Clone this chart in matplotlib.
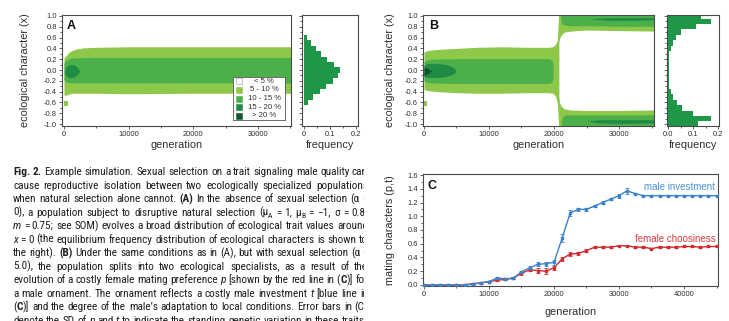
import numpy as np
import matplotlib
matplotlib.use("Agg")
import matplotlib.pyplot as plt
from matplotlib import font_manager
from matplotlib.font_manager import FontProperties
from matplotlib.ticker import MultipleLocator, FixedLocator

# ---------------------------------------------------------------- data
# frequency classes of the ecological-character distribution
class_labels = ["< 5 %", "5 - 10 %", "10 - 15 %", "15 - 20 %", "> 20 %"]
class_colors = ["#ffffff", "#8dc84a", "#4cb04a", "#1f8b44", "#12552c"]
hist_color = "#1e9848"

# Panel A (no sexual selection): band edges over generations
A_light_gen = [0, 300, 700, 1200, 2000, 3000, 5000, 10000, 20000, 30000, 35400]
A_light_top = [0.22, 0.26, 0.32, 0.36, 0.39, 0.41, 0.42, 0.43, 0.43, 0.43, 0.43]
A_light_bot = [-0.46, -0.47, -0.45, -0.43, -0.43, -0.43, -0.43, -0.44, -0.43, -0.43, -0.43]
A_spot_gen = [0, 700]
A_spot_top = [-0.57, -0.57]
A_spot_bot = [-0.67, -0.67]
A_mid_gen = [0, 300, 1000, 3000, 35400]
A_mid_top = [0.12, 0.18, 0.22, 0.23, 0.23]
A_mid_bot = [-0.18, -0.22, -0.24, -0.24, -0.24]
A_dark_gen = [100, 400, 900, 1500, 2000, 2500]
A_dark_top = [-0.02, 0.07, 0.10, 0.10, 0.06, -0.02]
A_dark_bot = [-0.06, -0.12, -0.14, -0.13, -0.09, -0.02]

# Panel A equilibrium histogram
A_hist_x = [0.6, 0.5, 0.4, 0.3, 0.2, 0.1, 0.0, -0.1, -0.2, -0.3, -0.4, -0.5, -0.6]
A_hist_f = [0.010, 0.025, 0.045, 0.065, 0.090, 0.115, 0.140, 0.130, 0.110, 0.085, 0.060, 0.035, 0.015]

# Panel B (sexual selection): band edges over generations
B_light_gen = [0, 500, 2000, 5000, 8000, 12000, 16000, 19000, 19800, 20200, 20500, 20750]
B_light_top = [0.33, 0.36, 0.38, 0.40, 0.42, 0.43, 0.42, 0.42, 0.43, 0.47, 0.55, 1.10]
B_light_bot = [-0.36, -0.38, -0.40, -0.42, -0.43, -0.43, -0.42, -0.42, -0.43, -0.48, -0.60, -1.10]
B_spot_gen = [0, 400]
B_spot_top = [-0.57, -0.57]
B_spot_bot = [-0.67, -0.67]
B_upper_gen = [20700, 20900, 21200, 21600, 22500, 25000, 30000, 35400]
B_upper_lo = [0.50, 0.60, 0.66, 0.70, 0.72, 0.74, 0.73, 0.72]
B_lower_hi = [-0.50, -0.62, -0.68, -0.72, -0.74, -0.75, -0.75, -0.74]
B_mid_gen = [0, 300, 1000, 5000, 10000, 15000, 19300, 19700, 19850]
B_mid_top = [0.15, 0.18, 0.20, 0.21, 0.21, 0.21, 0.21, 0.18, 0.10]
B_mid_bot = [-0.20, -0.22, -0.24, -0.25, -0.25, -0.25, -0.25, -0.22, -0.12]
B_mid_up_gen = [21000, 21200, 22000, 25000, 30000, 35400]
B_mid_up_lo = [0.95, 0.85, 0.82, 0.82, 0.81, 0.81]
B_mid_dn_gen = [21100, 21400, 22000, 25000, 30000, 35400]
B_mid_dn_hi = [-0.95, -0.85, -0.83, -0.83, -0.83, -0.83]
B_dark_gen = [0, 500, 1500, 3000, 4000, 4700, 4900]
B_dark_top = [0.08, 0.12, 0.12, 0.11, 0.08, 0.03, -0.01]
B_dark_bot = [-0.12, -0.14, -0.14, -0.13, -0.10, -0.06, -0.01]
B_dark_up_gen = [25500, 27000, 29000, 32000, 35400]
B_dark_up_top = [0.95, 0.96, 0.97, 0.97, 0.97]
B_dark_up_bot = [0.95, 0.93, 0.92, 0.92, 0.93]
B_dark_dn_gen = [25000, 27000, 30000, 35400]
B_dark_dn_top = [-0.95, -0.92, -0.92, -0.92]
B_dark_dn_bot = [-0.95, -0.98, -0.99, -0.98]
B_core_gen = [0, 300, 700, 1200]
B_core_top = [0.04, 0.05, 0.02, -0.02]
B_core_bot = [-0.10, -0.09, -0.06, -0.02]

# Panel B histogram
B_hist_x = [1.0, 0.9, 0.8, 0.7, 0.6, 0.5, 0.4, 0.3, 0.2, 0.1, 0.0, -0.1, -0.2, -0.3,
            -0.4, -0.5, -0.6, -0.7, -0.8, -0.9, -1.0]
B_hist_f = [0.13, 0.17, 0.11, 0.05, 0.03, 0.02, 0.01, 0.004, 0.003, 0.003, 0.003, 0.003,
            0.003, 0.004, 0.01, 0.02, 0.035, 0.055, 0.10, 0.17, 0.12]

# Panel C: mean mating characters over time
C_gen = np.arange(0, 45001, 1250)
C_male = [0, 0, 0, 0, 0, 0, 0.01, 0.03, 0.05, 0.10, 0.09, 0.10, 0.19, 0.25, 0.30,
          0.31, 0.33, 0.68, 1.05, 1.10, 1.10, 1.15, 1.20, 1.25, 1.30, 1.37, 1.33,
          1.30, 1.30, 1.30, 1.30, 1.30, 1.30, 1.30, 1.30, 1.30, 1.30]
C_male_sd = [0.005, 0.005, 0.005, 0.005, 0.005, 0.005, 0.01, 0.01, 0.01, 0.015, 0.015,
             0.015, 0.015, 0.02, 0.03, 0.03, 0.04, 0.06, 0.04, 0.02, 0.02, 0.02, 0.02,
             0.02, 0.03, 0.04, 0.01, 0.01, 0.01, 0.01, 0.01, 0.01, 0.01, 0.01, 0.01,
             0.01, 0.01]
C_female = [0, 0, 0, 0, 0, 0, 0.02, 0.03, 0.05, 0.07, 0.08, 0.10, 0.17, 0.22, 0.21,
            0.20, 0.25, 0.38, 0.45, 0.46, 0.50, 0.55, 0.55, 0.55, 0.57, 0.57, 0.55,
            0.55, 0.53, 0.55, 0.55, 0.55, 0.56, 0.56, 0.55, 0.56, 0.56]
C_female_sd = [0.005, 0.005, 0.005, 0.005, 0.005, 0.005, 0.01, 0.01, 0.01, 0.01, 0.01,
               0.015, 0.02, 0.02, 0.03, 0.04, 0.03, 0.03, 0.03, 0.02, 0.02, 0.01, 0.01,
               0.01, 0.01, 0.01, 0.01, 0.01, 0.01, 0.01, 0.01, 0.01, 0.01, 0.01, 0.01,
               0.01, 0.01]

eco_ticks = [1.0, 0.8, 0.6, 0.4, 0.2, 0.0, -0.2, -0.4, -0.6, -0.8, -1.0]
gen_ticks_AB = [0, 10000, 20000, 30000]
gen_ticks_C = [0, 10000, 20000, 30000, 40000]
freq_ticks = [0, 0.1, 0.2]
freq_labels_A = ["0", "0.1", "0.2"]
freq_labels_B = ["0.0", "0.1", "0.2"]
mate_ticks = [0.0, 0.2, 0.4, 0.6, 0.8, 1.0, 1.2, 1.4, 1.6]

caption_lines = [
    "*Fig. 2.* Example simulation. Sexual selection on a trait signaling male quality can",
    "cause reproductive isolation between two ecologically specialized populations",
    "when natural selection alone cannot. *(A)* In the absence of sexual selection (α =",
    "0), a population subject to disruptive natural selection (μ~A~ = 1, μ~B~ = −1, σ = 0.8,",
    "_m_ = 0.75; see SOM) evolves a broad distribution of ecological trait values around",
    "_x_ = 0 (the equilibrium frequency distribution of ecological characters is shown to",
    "the right). *(B)* Under the same conditions as in (A), but with sexual selection (α =",
    "5.0), the population splits into two ecological specialists, as a result of the",
    "evolution of a costly female mating preference _p_ [shown by the red line in (*C*)] for",
    "a male ornament. The ornament reflects a costly male investment _t_ [blue line in",
    "(*C*)] and the degree of the male’s adaptation to local conditions. Error bars in (C)",
    "denote the SD of _p_ and _t_ to indicate the standing genetic variation in these traits.",
]

# ---------------------------------------------------------------- setup
plt.rcParams["font.family"] = ["Liberation Sans", "DejaVu Sans"]
W, H = 729, 321
fig = plt.figure(figsize=(W / 100, H / 100), dpi=100)

SPINE = "#4a4a4a"
TXT = "#2e2e2e"


def px_axes(l, t, r, b):
    return fig.add_axes([l / W, 1 - b / H, (r - l) / W, (b - t) / H])


def style(ax):
    for s in ax.spines.values():
        s.set_color(SPINE)
        s.set_linewidth(0.8)
    ax.tick_params(which="both", direction="out", colors=SPINE, labelcolor=TXT,
                   labelsize=5.4, width=0.6, pad=1.2)
    ax.tick_params(which="major", length=2.4)
    ax.tick_params(which="minor", length=1.4)


def eco_axis(ax, labels=True):
    ax.set_ylim(-1.037, 1.0185)
    ax.yaxis.set_major_locator(FixedLocator(eco_ticks))
    ax.yaxis.set_minor_locator(MultipleLocator(0.1))
    if labels:
        ax.set_yticklabels([f"{v:.1f}" for v in eco_ticks])
    else:
        ax.set_yticklabels([])


def bands(ax, gen, top, bot, color):
    ax.fill_between(gen, bot, top, color=color, lw=0, zorder=2)


# ---------------------------------------------------------------- panel A
axA = px_axes(62, 15, 291, 126)
style(axA)
bands(axA, A_light_gen, A_light_top, A_light_bot, class_colors[1])
bands(axA, A_spot_gen, A_spot_top, A_spot_bot, class_colors[1])
bands(axA, A_mid_gen, A_mid_top, A_mid_bot, class_colors[2])
bands(axA, A_dark_gen, A_dark_top, A_dark_bot, class_colors[3])
axA.set_xlim(-300, 35100)
axA.xaxis.set_major_locator(FixedLocator(gen_ticks_AB))
axA.xaxis.set_minor_locator(MultipleLocator(5000))
eco_axis(axA)
axA.set_xlabel("generation", fontsize=7.8, color=TXT)
axA.xaxis.set_label_coords(0.5, -0.125)
axA.set_ylabel("ecological character (x)", fontsize=7.8, color=TXT)
axA.yaxis.set_label_coords(-0.14, 0.5)
axA.text(5 / 229, 1 - 5 / 111, "A", transform=axA.transAxes, ha="left", va="top",
         fontsize=9, fontweight="bold", color="#111111")

# legend of frequency classes
leg = axA.inset_axes([(233 - 62) / 229, (126 - 120) / 111, 52 / 229, 43 / 111])
leg.set_xlim(0, 1)
leg.set_ylim(0, 1)
leg.set_xticks([])
leg.set_yticks([])
for s in leg.spines.values():
    s.set_color("#555555")
    s.set_linewidth(0.6)
for i, (lab, col) in enumerate(zip(class_labels, class_colors)):
    yy = 1 - (i + 0.5) / len(class_labels)
    leg.scatter([0.12], [yy], marker="s", s=16, color=col,
                edgecolor="#999999" if i == 0 else col, linewidth=0.4, zorder=3)
    leg.text(0.6, yy, lab, ha="center", va="center", fontsize=5.6, color=TXT)

# histogram A
axAh = px_axes(302, 15, 358, 126)
style(axAh)
axAh.barh(A_hist_x, A_hist_f, height=0.1, color=hist_color, lw=0, zorder=2)
axAh.set_xlim(-0.008, 0.208)
axAh.xaxis.set_major_locator(FixedLocator(freq_ticks))
axAh.set_xticklabels(freq_labels_A)
axAh.xaxis.set_minor_locator(MultipleLocator(0.05))
eco_axis(axAh, labels=False)
axAh.set_xlabel("frequency", fontsize=7.8, color=TXT)
axAh.xaxis.set_label_coords(0.5, -0.125)

# ---------------------------------------------------------------- panel B
axB = px_axes(423, 15, 654, 126)
style(axB)
bands(axB, B_light_gen, B_light_top, B_light_bot, class_colors[1])
bands(axB, B_spot_gen, B_spot_top, B_spot_bot, class_colors[1])
bands(axB, B_upper_gen, [1.1] * len(B_upper_gen), B_upper_lo, class_colors[1])
bands(axB, B_upper_gen, B_lower_hi, [-1.1] * len(B_upper_gen), class_colors[1])
bands(axB, B_mid_gen, B_mid_top, B_mid_bot, class_colors[2])
bands(axB, B_mid_up_gen, [1.1] * len(B_mid_up_gen), B_mid_up_lo, class_colors[2])
bands(axB, B_mid_dn_gen, B_mid_dn_hi, [-1.1] * len(B_mid_dn_gen), class_colors[2])
bands(axB, B_dark_gen, B_dark_top, B_dark_bot, class_colors[3])
bands(axB, B_dark_up_gen, B_dark_up_top, B_dark_up_bot, class_colors[3])
bands(axB, B_dark_dn_gen, B_dark_dn_top, B_dark_dn_bot, class_colors[3])
bands(axB, B_core_gen, B_core_top, B_core_bot, class_colors[4])
axB.set_xlim(-150, 35380)
axB.xaxis.set_major_locator(FixedLocator(gen_ticks_AB))
axB.xaxis.set_minor_locator(MultipleLocator(5000))
eco_axis(axB)
axB.set_xlabel("generation", fontsize=7.8, color=TXT)
axB.xaxis.set_label_coords(0.5, -0.125)
axB.set_ylabel("ecological character (x)", fontsize=7.8, color=TXT)
axB.yaxis.set_label_coords(-0.122, 0.5)
axB.text(6 / 231, 1 - 5 / 111, "B", transform=axB.transAxes, ha="left", va="top",
         fontsize=9, fontweight="bold", color="#111111")

axBh = px_axes(667, 15, 719, 126)
style(axBh)
axBh.barh(B_hist_x, B_hist_f, height=0.1, color=hist_color, lw=0, zorder=2)
axBh.set_xlim(-0.005, 0.203)
axBh.xaxis.set_major_locator(FixedLocator(freq_ticks))
axBh.set_xticklabels(freq_labels_B)
axBh.xaxis.set_minor_locator(MultipleLocator(0.05))
eco_axis(axBh, labels=False)
axBh.set_xlabel("frequency", fontsize=7.8, color=TXT)
axBh.xaxis.set_label_coords(0.5, -0.125)

# ---------------------------------------------------------------- panel C
axC = px_axes(423, 174, 718, 286)
style(axC)
BLUE = "#3a82cc"
RED = "#d02b2e"
axC.errorbar(C_gen, C_female, yerr=C_female_sd, fmt="-s", color=RED, ms=2.0, lw=1.0,
             elinewidth=0.6, capsize=1.1, capthick=0.6, zorder=3)
axC.errorbar(C_gen, C_male, yerr=C_male_sd, fmt="-s", color=BLUE, ms=2.0, lw=1.0,
             elinewidth=0.6, capsize=1.1, capthick=0.6, zorder=4)
axC.set_xlim(-150, 45230)
axC.set_ylim(-0.015, 1.615)
axC.xaxis.set_major_locator(FixedLocator(gen_ticks_C))
axC.xaxis.set_minor_locator(MultipleLocator(5000))
axC.yaxis.set_major_locator(FixedLocator(mate_ticks))
axC.set_yticklabels([f"{v:.1f}" for v in mate_ticks])
axC.yaxis.set_minor_locator(MultipleLocator(0.1))
axC.set_xlabel("generation", fontsize=7.8, color=TXT)
axC.xaxis.set_label_coords(0.5, -0.19)
axC.set_ylabel("mating characters (p,t)", fontsize=7.8, color=TXT)
axC.yaxis.set_label_coords(-0.095, 0.5)
axC.text(5 / 295, 1 - 6 / 112, "C", transform=axC.transAxes, ha="left", va="top",
         fontsize=9, fontweight="bold", color="#111111")
axC.text(44800, 1.42, "male investment", ha="right", va="center", fontsize=7,
         color="#4a93d8")
axC.text(44950, 0.665, "female choosiness", ha="right", va="center", fontsize=7,
         color="#d83a3c")

# ---------------------------------------------------------------- caption
installed = {f.name for f in font_manager.fontManager.ttflist}
CAP_FAMILY = next((f for f in ["Liberation Sans Narrow", "Roboto Condensed",
                               "Open Sans Condensed", "Liberation Sans"]
                   if f in installed), "DejaVu Sans")
CAP_SIZE = 8.1
CAP_LEFT, CAP_RIGHT = 13.0, 368.0
LINE_TOP, LINE_STEP = 175.0, 13.55

cap = fig.add_axes([0, 0, 364 / W, 162 / H])
cap.set_xlim(0, 364)
cap.set_ylim(0, 162)
cap.axis("off")


def parse(line):
    b = i = s = False
    words, cur = [], []
    for ch in line:
        if ch == "*":
            b = not b
            continue
        if ch == "_":
            i = not i
            continue
        if ch == "~":
            s = not s
            continue
        if ch == " ":
            if cur:
                words.append(cur)
                cur = []
            continue
        st = (b, i, s)
        if cur and cur[-1][1] == st:
            cur[-1][0] += ch
        else:
            cur.append([ch, st])
    if cur:
        words.append(cur)
    return words


def props(st):
    b, i, s = st
    return FontProperties(family=[CAP_FAMILY, "DejaVu Sans"],
                          weight="bold" if b else "normal",
                          style="italic" if i else "normal",
                          size=CAP_SIZE * (0.68 if s else 1.0))


renderer = fig.canvas.get_renderer()


def width(txt, prop):
    return renderer.get_text_width_height_descent(txt, prop, ismath=False)[0]


base_prop = props((False, False, False))
space_w = width("n n", base_prop) - width("nn", base_prop)

for k, line in enumerate(caption_lines):
    words = parse(line)
    wlist = [[width(t, props(st)) for t, st in w] for w in words]
    total = sum(sum(w) for w in wlist)
    gap = (CAP_RIGHT - CAP_LEFT - total) / max(len(words) - 1, 1)
    gap = max(gap, 0.6 * space_w)
    y = 321 - (LINE_TOP + LINE_STEP * k)
    x = CAP_LEFT
    for w, ws in zip(words, wlist):
        for (t, st), sw in zip(w, ws):
            dy = -2.0 if st[2] else 0.0
            cap.text(x, y + dy, t, fontproperties=props(st), ha="left", va="baseline",
                     color="#1e1e1e", clip_on=True)
            x += sw
        x += gap

fig.savefig("out.png", dpi=100)
